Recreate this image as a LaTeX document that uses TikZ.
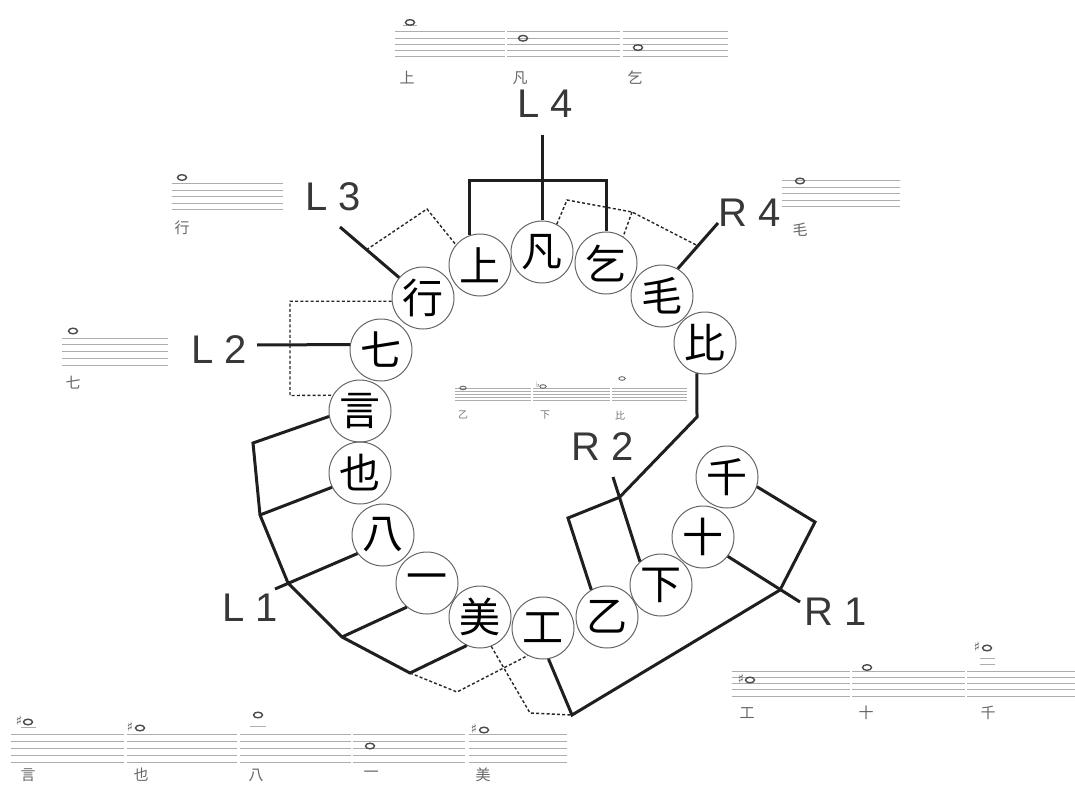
\documentclass[tikz,border=0pt]{standalone}
\usepackage{fontspec}
\setmainfont{Liberation Sans}
\newfontfamily\cjk{Noto Sans CJK JP}
\newfontfamily\symf{DejaVu Sans}
\usetikzlibrary{calc}
\newcommand\stafseg[4]{\foreach \k in {0,...,4}{\draw[stl] (#1,{#3+\k*#4}) -- (#2,{#3+\k*#4});}}
\tikzset{
 ch/.style={circle, draw=black!60, line width=1pt, minimum size=62pt, inner sep=0pt, font=\cjk\fontsize{41}{41}\selectfont},
 lab/.style={font=\fontsize{40}{40}\selectfont, text=black!78, inner sep=0pt},
 thk/.style={line width=3pt, black!88},
 dsh/.style={line width=1.4pt, black!85, dash pattern=on 3pt off 2.2pt},
 stl/.style={line width=1pt, black!32},
 nh/.style={line width=1.4pt, black!70},
 nhs/.style={line width=0.9pt, black!60},
 sl/.style={font=\cjk\fontsize{15}{15}\selectfont, text=black!60, inner sep=0pt},
 sls/.style={font=\cjk\fontsize{10}{10}\selectfont, text=black!55, inner sep=0pt},
 acc/.style={font=\symf\fontsize{13}{13}\selectfont, text=black!65, inner sep=0pt},
}
\begin{document}
\begin{tikzpicture}[x=1pt,y=-1pt]
\useasboundingbox (0,0) rectangle (1075,786);

% ---------- staffs ----------
% top
\stafseg{395}{505}{32}{6.25}
\stafseg{507}{620}{32}{6.25}
\stafseg{623}{728}{32}{6.25}
\draw[stl] (403,25.75) -- (417,25.75);
\draw[nh] (410,22.4) ellipse (4.5 and 2.8);
\draw[nh] (523,38.25) ellipse (4.5 and 2.8);
\draw[nh] (638,47.6) ellipse (4.5 and 2.8);
\node[sl] (tsa) at (407,78) {上};
\node[sl] (tsb) at (520,78) {凡};
\node[sl] (tsc) at (635,78) {乞};
% L3 staff
\stafseg{172}{283}{184}{6.5}
\draw[nh] (182,177.5) ellipse (4.5 and 2.8);
\node[sl] (l3s) at (182,228) {行};
% L2 staff
\stafseg{62}{168}{338}{6.75}
\draw[nh] (73,331) ellipse (4.5 and 2.8);
\node[sl] (l2s) at (73,383) {七};
% R4 staff
\stafseg{782}{900}{181}{6.5}
\draw[nh] (800,181) ellipse (4.5 and 2.8);
\node[sl] (r4s) at (800,230) {毛};
% centre staff
\stafseg{455}{531}{388}{3}
\stafseg{533}{610}{388}{3}
\stafseg{612}{687}{388}{3}
\draw[nhs] (463,388) ellipse (3.2 and 1.8);
\node[acc, font=\symf\fontsize{8}{8}\selectfont] (cfl) at (538,385) {♭};
\draw[nhs] (543,386.5) ellipse (3.2 and 1.8);
\draw[nhs] (622,378.5) ellipse (3.2 and 1.8);
\node[sls] (csa) at (463,415) {乙};
\node[sls] (csb) at (545,415) {下};
\node[sls] (csc) at (620,416) {比};
% bottom-left staff
\stafseg{11}{124}{734}{7}
\stafseg{127}{237}{734}{7}
\stafseg{240}{351}{734}{7}
\stafseg{353}{465}{734}{7}
\stafseg{469}{567}{734}{7}
\node[acc] (bsh1) at (19,721) {♯};
\draw[stl] (21,727) -- (36,727);
\draw[nh] (28,722) ellipse (4.5 and 2.8);
\node[acc] (bsh2) at (130,727) {♯};
\draw[nh] (140,728) ellipse (4.5 and 2.8);
\draw[stl] (250,726) -- (266,726);
\draw[nh] (258,715) ellipse (4.5 and 2.8);
\draw[nh] (370,746) ellipse (4.5 and 2.8);
\node[acc] (bsh3) at (474,729) {♯};
\draw[nh] (484,730) ellipse (4.5 and 2.8);
\node[sl] (bsa) at (28,775) {言};
\node[sl] (bsb) at (141,775) {也};
\node[sl] (bsc) at (256,775) {八};
\node[sl] (bsd) at (371,774) {一};
\node[sl] (bse) at (483,775) {美};
% bottom-right staff
\stafseg{732}{850}{671}{6.25}
\stafseg{852}{965}{671}{6.25}
\stafseg{967}{1075}{671}{6.25}
\node[acc] (rsh1) at (741,679) {♯};
\draw[nh] (750,680) ellipse (4.5 and 2.8);
\draw[nh] (867,667.5) ellipse (4.5 and 2.8);
\node[acc] (rsh2) at (977,647) {♯};
\draw[stl] (980,658.5) -- (995,658.5);
\draw[stl] (980,664.75) -- (995,664.75);
\draw[nh] (987,648) ellipse (4.5 and 2.8);
\node[sl] (rsa) at (747,713) {工};
\node[sl] (rsb) at (866,713) {十};
\node[sl] (rsc) at (988,713) {千};

% ---------- circles ----------
\node[ch] (shang) at (480,265) {上};
\node[ch] (fan) at (542,252) {凡};
\node[ch] (qi) at (606,263) {乞};
\node[ch] (mao) at (662,296) {毛};
\node[ch] (bi) at (705,343) {比};
\node[ch] (xing) at (423,298) {行};
\node[ch] (qiq) at (381,350) {七};
\node[ch] (yan) at (360,411) {言};
\node[ch] (ye) at (360,473) {也};
\node[ch] (ba) at (383,535) {八};
\node[ch] (yi) at (427,583) {一};
\node[ch] (mei) at (480,617) {美};
\node[ch] (gong) at (543,628) {工};
\node[ch] (yib) at (607,617) {乙};
\node[ch] (xia) at (661,585) {下};
\node[ch] (shi) at (703,537) {十};
\node[ch] (qian) at (727,477) {千};

% ---------- labels ----------
\node[lab] (tL4) at (545,104) {L 4};
\node[lab] (tL3) at (333,197) {L 3};
\node[lab] (tL2) at (219,350) {L 2};
\node[lab] (tL1) at (250,608) {L 1};
\node[lab] (tR4) at (750,213) {R 4};
\node[lab] (tR2) at (603,447) {R 2};
\node[lab] (tR1) at (836,612) {R 1};

% ---------- connectors ----------
% L4
\coordinate (L4top) at (542,135);
\coordinate (L4bar) at (542,181);
\draw[thk] (L4top) -- (fan.north);
\draw[thk] (shang.110) |- (L4bar) -| (qi.north);
% L3
\coordinate (L3a) at (340,227);
\draw[thk] (L3a) -- (xing);
\coordinate (L3d) at ($(L3a)!0.32!(xing)$);
\coordinate (L3k) at (427,209);
\draw[dsh] (L3d) -- (L3k) -- (shang.140);
% R4
\coordinate (R4a) at (718,223);
\draw[thk] (R4a) -- (mao.60);
\coordinate (R4d) at ($(R4a)!0.5!(mao.60)$);
\coordinate (R4k1) at (567,200);
\coordinate (R4k2) at (632,212);
\draw[dsh] (fan.62) -- (R4k1) -- (R4k2) -- (R4d);
\draw[dsh] (R4k2) -- (qi.57);
% L2
\coordinate (L2a) at (257,345);
\draw[thk] (L2a) -- (qiq.170);
\coordinate (L2k) at (290,395.5);
\draw[dsh] (xing.186) -| (L2k) -- (yan.150);
% L1
\coordinate (c1) at (253,443);
\coordinate (c2) at (260,515);
\coordinate (c3) at (288,583);
\coordinate (c4) at (342,637);
\coordinate (c5) at (410,673);
\coordinate (L1a) at (275,589);
\draw[thk] (yan.190) -- (c1) -- (c2) -- (c3) -- (c4) -- (c5) -- (mei.245);
\draw[thk] (c2) -- (ye.207);
\draw[thk] (L1a) -- (ba.216);
\draw[thk] (c4) -- (yi.230);
% dashed bottom
\coordinate (d1) at (457,692);
\draw[dsh] (c5) -- (d1) -- (gong.241);
\coordinate (d2) at (530,713);
\coordinate (r1) at (572,715);
\draw[dsh] (mei.291) -- (d2) -- (r1);
% R1
\coordinate (r2) at (780,590);
\coordinate (r3) at (815,522);
\coordinate (R1a) at (800,602);
\draw[thk] (gong.280) -- (r1) -- (r2) -- (r3) -- (qian.342);
\draw[thk] (shi.322) -- (R1a);
% R2
\coordinate (R2a) at (613,477);
\draw[thk] (R2a) -- (xia.132);
\coordinate (s1) at (568,518);
\coordinate (s2) at ($(R2a)!0.24!(xia.132)$);
\coordinate (s3) at (697,417);
\draw[thk] (yib.120) -- (s1) -- (s2) -- (s3) -- (bi.255);
\end{tikzpicture}
\end{document}
